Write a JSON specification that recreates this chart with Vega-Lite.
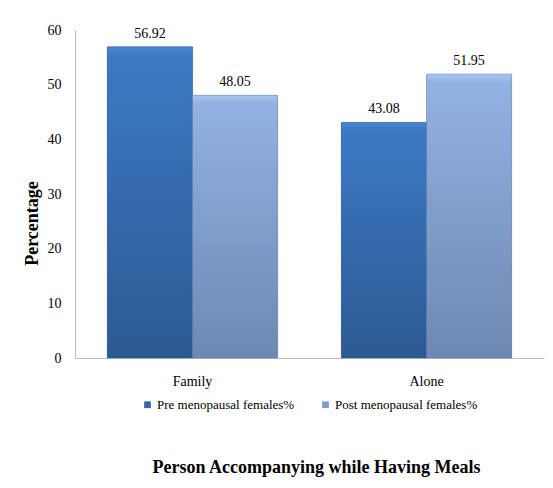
{
  "$schema": "https://vega.github.io/schema/vega-lite/v6.json",
  "width": 469,
  "height": 328,
  "autosize": {"type": "none"},
  "padding": {"left": 75, "top": 30, "right": 9, "bottom": 130},
  "background": "white",
  "config": {
    "view": {"stroke": null},
    "font": "Liberation Serif",
    "legend": {"layout": {"bottom": {"anchor": "middle"}}}
  },
  "data": {
    "values": [
      {"place": "Family", "group": "Pre menopausal females%", "pct": 56.92},
      {"place": "Family", "group": "Post menopausal females%", "pct": 48.05},
      {"place": "Alone", "group": "Pre menopausal females%", "pct": 43.08},
      {"place": "Alone", "group": "Post menopausal females%", "pct": 51.95}
    ]
  },
  "title": {
    "text": "Person Accompanying while Having Meals",
    "orient": "bottom",
    "anchor": "middle",
    "font": "Liberation Serif",
    "fontSize": 18,
    "fontWeight": "bold",
    "color": "#000000",
    "offset": 47,
    "dx": 7
  },
  "encoding": {
    "x": {
      "field": "place",
      "type": "nominal",
      "sort": ["Family", "Alone"],
      "scale": {"paddingInner": 0.272, "paddingOuter": 0.138},
      "axis": {
        "title": null,
        "labelAngle": 0,
        "domainColor": "#bfbfbf",
        "ticks": false,
        "labelPadding": 16,
        "labelFont": "Liberation Serif",
        "labelFontSize": 14,
        "labelColor": "#000000"
      }
    },
    "xOffset": {
      "field": "group",
      "type": "nominal",
      "sort": ["Pre menopausal females%", "Post menopausal females%"],
      "scale": {"paddingInner": 0, "paddingOuter": 0}
    },
    "y": {
      "field": "pct",
      "type": "quantitative",
      "scale": {"domain": [0, 60]},
      "axis": {
        "title": "Percentage",
        "titleFont": "Liberation Serif",
        "titleFontSize": 18,
        "titleFontWeight": "bold",
        "titleColor": "#000000",
        "titleAngle": -90,
        "titleX": -43,
        "titleY": 193,
        "titleAlign": "center",
        "titleBaseline": "middle",
        "values": [0, 10, 20, 30, 40, 50, 60],
        "grid": false,
        "ticks": false,
        "domainColor": "#bfbfbf",
        "labelPadding": 14,
        "labelFont": "Liberation Serif",
        "labelFontSize": 14,
        "labelColor": "#000000"
      }
    }
  },
  "layer": [
    {
      "mark": {"type": "bar"},
      "encoding": {
        "color": {
          "field": "group",
          "type": "nominal",
          "sort": ["Pre menopausal females%", "Post menopausal females%"],
          "scale": {
            "domain": ["Pre menopausal females%", "Post menopausal females%"],
            "range": ["#3468ab", "#7f9dcb"]
          },
          "legend": {
            "title": null,
            "orient": "bottom",
            "direction": "horizontal",
            "symbolType": "square",
            "symbolSize": 45,
            "symbolStrokeWidth": 0,
            "labelFont": "Liberation Serif",
            "labelFontSize": 13,
            "labelColor": "#000000",
            "labelOffset": 3,
            "columnPadding": 24,
            "offset": 10
          }
        }
      }
    },
    {
      "transform": [{"filter": "datum.group === 'Pre menopausal females%'"}],
      "mark": {
        "type": "bar",
        "stroke": "#2a4f80",
        "strokeOpacity": 0.4,
        "strokeWidth": 1,
        "fill": {"gradient": "linear", "x1": 0, "y1": 0, "x2": 0, "y2": 1, "stops": [{"offset": 0, "color": "#4a88d2"}, {"offset": 0.03, "color": "#3c79c4"}, {"offset": 1, "color": "#2c5a93"}]}
      }
    },
    {
      "transform": [{"filter": "datum.group === 'Post menopausal females%'"}],
      "mark": {
        "type": "bar",
        "stroke": "#5c7398",
        "strokeOpacity": 0.4,
        "strokeWidth": 1,
        "fill": {"gradient": "linear", "x1": 0, "y1": 0, "x2": 0, "y2": 1, "stops": [{"offset": 0, "color": "#a8c6f0"}, {"offset": 0.03, "color": "#92b2e3"}, {"offset": 1, "color": "#6d88b2"}]}
      }
    },
    {
      "mark": {"type": "text", "baseline": "alphabetic", "dy": -9, "font": "Liberation Serif", "fontSize": 14, "color": "#000000"},
      "encoding": {
        "text": {"field": "pct", "type": "quantitative", "format": ".2f"}
      }
    }
  ]
}
